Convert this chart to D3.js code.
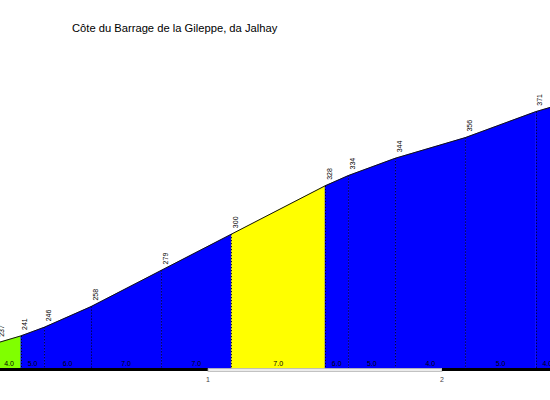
<!DOCTYPE html>
<html>
<head>
<meta charset="utf-8">
<script src="https://cdn.jsdelivr.net/npm/d3@7"></script>
<style>
  html, body { margin: 0; padding: 0; background: #fff; }
  svg { display: block; }
  text { font-family: "Liberation Sans", Arial, sans-serif; }
</style>
</head>
<body>
<svg id="chart" width="550" height="400"></svg>
<script>
// ---- data ----
const title = "Côte du Barrage de la Gileppe, da Jalhay";
const distancesKm = [0.1, 0.2, 0.3, 0.5, 0.8, 1.1, 1.5, 1.6, 1.8, 2.1, 2.4, 2.5];
const elevations  = [237, 241, 246, 258, 279, 300, 328, 334, 344, 356, 371, 375];
const segmentColors = ["#80ff00", "#0000ff", "#0000ff", "#0000ff", "#0000ff", "#ffff00",
                       "#0000ff", "#0000ff", "#0000ff", "#0000ff", "#0000ff"];
const kmTicks = [0, 1, 2, 3];
const baseElevation = 222.4;

// ---- scales ----
const svg = d3.select("#chart");
const x = d3.scaleLinear().domain([0, 2]).range([-26, 442]);
const baseY = 368;
const y = d3.scaleLinear().domain([baseElevation, 371]).range([baseY, 111.7]);

const points = distancesKm.map((d, i) => ({ d, e: elevations[i] }));
const segments = d3.pairs(points).map(([a, b], i) => ({
  a, b, color: segmentColors[i],
  grade: (b.e - a.e) / ((b.d - a.d) * 1000) * 100
}));

// title
svg.append("text")
  .attr("x", 72).attr("y", 32)
  .attr("font-size", 11.2)
  .attr("fill", "#000")
  .text(title);

// filled segments
const area = d3.area().x(p => x(p.d)).y0(baseY).y1(p => y(p.e));
svg.append("g").selectAll("path")
  .data(segments).join("path")
  .attr("d", s => area([s.a, s.b]))
  .attr("fill", s => s.color)
  .attr("stroke", s => s.color)
  .attr("stroke-width", 0.5);

// dotted verticals
svg.append("g").selectAll("line")
  .data(points).join("line")
  .attr("x1", p => Math.round(x(p.d)) + 0.5)
  .attr("x2", p => Math.round(x(p.d)) + 0.5)
  .attr("y1", p => y(p.e))
  .attr("y2", baseY)
  .attr("stroke", "#000")
  .attr("stroke-width", 1)
  .attr("stroke-dasharray", "1,2");

// profile outline
svg.append("path")
  .datum(points)
  .attr("d", d3.line().x(p => x(p.d)).y(p => y(p.e)))
  .attr("fill", "none")
  .attr("stroke", "#111")
  .attr("stroke-width", 1);

// elevation labels
svg.append("g").selectAll("text")
  .data(points).join("text")
  .attr("transform", p => `translate(${x(p.d) + 6.5},${y(p.e) - 6}) rotate(-90)`)
  .attr("font-size", 7)
  .attr("fill", "#000")
  .text(p => p.e);

// grade labels
svg.append("g").selectAll("text")
  .data(segments).join("text")
  .attr("x", s => (x(s.a.d) + x(s.b.d)) / 2)
  .attr("y", 366)
  .attr("text-anchor", "middle")
  .attr("font-size", 7)
  .attr("fill", "#000")
  .text(s => s.grade.toFixed(1));

// km bar
svg.append("g").selectAll("rect")
  .data(d3.pairs(kmTicks)).join("rect")
  .attr("x", ([a]) => x(a))
  .attr("width", ([a, b]) => x(b) - x(a))
  .attr("y", ([a]) => a % 2 === 0 ? 368 : 368.8)
  .attr("height", ([a]) => a % 2 === 0 ? 3 : 2.4)
  .attr("fill", ([a]) => a % 2 === 0 ? "#000" : "#fff")
  .attr("stroke", ([a]) => a % 2 === 0 ? "none" : "#999")
  .attr("stroke-width", 0.8);

// km labels
svg.append("g").selectAll("text")
  .data(kmTicks.filter(k => k > 0)).join("text")
  .attr("x", k => x(k))
  .attr("y", 382)
  .attr("text-anchor", "middle")
  .attr("font-size", 7)
  .attr("fill", "#444")
  .text(k => k);
</script>
</body>
</html>
